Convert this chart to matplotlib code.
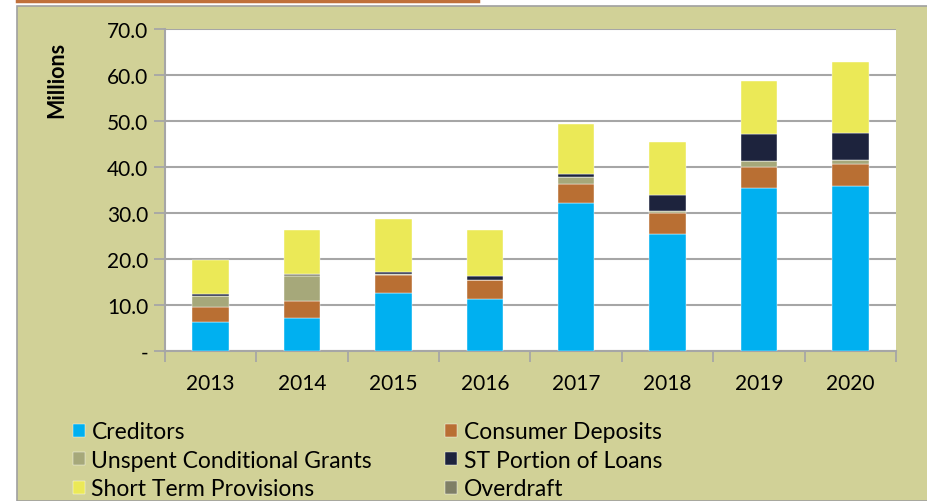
import matplotlib.pyplot as plt
import matplotlib.ticker as mticker
from matplotlib.patches import Rectangle
from matplotlib.lines import Line2D
import numpy as np

plt.rcParams['font.family'] = ['Lato', 'DejaVu Sans']

years = ['2013', '2014', '2015', '2016', '2017', '2018', '2019', '2020']

creditors = [6.2, 7.2, 12.6, 11.3, 32.2, 25.4, 35.4, 35.8]
consumer_deposits = [3.4, 3.7, 3.9, 4.1, 4.2, 4.5, 4.6, 4.9]
unspent_grants = [2.4, 5.5, 0.2, 0.0, 1.4, 0.5, 1.3, 0.8]
st_loans = [0.3, 0.0, 0.5, 0.8, 0.7, 3.5, 5.9, 6.0]
provisions = [7.5, 9.7, 11.5, 10.0, 10.9, 11.5, 11.5, 15.3]
overdraft = [0.0, 0.3, 0.0, 0.0, 0.0, 0.0, 0.0, 0.0]

series = [
    ("Creditors", creditors, "#00B0F0"),
    ("Consumer Deposits", consumer_deposits, "#B96F33"),
    ("Unspent Conditional Grants", unspent_grants, "#A6A87A"),
    ("Overdraft", overdraft, "#7F7F66"),
    ("ST Portion of Loans", st_loans, "#1D233D"),
    ("Short Term Provisions", provisions, "#EBE957"),
]

# legend fills column by column
legend_order = ["Creditors", "Unspent Conditional Grants", "Short Term Provisions",
                "Consumer Deposits", "ST Portion of Loans", "Overdraft"]

olive = "#D1D197"
grid_gray = "#A6A6A6"

fig = plt.figure(figsize=(9.28, 5.02), dpi=100)
fig.patch.set_facecolor("white")

# chart area background + border, orange rule above
bg = Rectangle((17 / 928, 0), 1, 1 - 7 / 502, transform=fig.transFigure,
               facecolor=olive, edgecolor="#A0A0A0", linewidth=1.2, zorder=-10)
fig.patches.append(bg)
fig.lines.append(Line2D([17 / 928, 478 / 928], [1 - 1.5 / 502, 1 - 1.5 / 502],
                        transform=fig.transFigure, color="#C0703A", linewidth=2.5))

ax = fig.add_axes([165 / 928, 150 / 502, 731 / 928, 322 / 502])
ax.set_facecolor("white")

x = np.arange(len(years))
bottom = np.zeros(len(years))
for name, vals, color in series:
    ax.bar(x, vals, 0.4, bottom=bottom, color=color, label=name,
           edgecolor="white", linewidth=0.3, zorder=3)
    bottom += np.array(vals)

ax.set_xlim(-0.5, len(years) - 0.5)
ax.set_ylim(0, 70)
ax.yaxis.set_major_locator(mticker.MultipleLocator(10))
ax.yaxis.set_major_formatter(mticker.FuncFormatter(lambda v, p: "-" if v == 0 else f"{v:.1f}"))
ax.grid(axis="y", color=grid_gray, linewidth=1.5, zorder=0)

ax.set_xticks(x)
ax.set_xticklabels(years)
ax.set_xticks(np.arange(-0.5, len(years)), minor=True)
ax.tick_params(axis="x", which="major", length=0, pad=16, labelsize=15)
ax.tick_params(axis="x", which="minor", length=8, width=1.3, color=grid_gray)
ax.tick_params(axis="y", length=8, width=1.3, color=grid_gray, labelsize=15, pad=4)

for side in ["top", "right"]:
    ax.spines[side].set_visible(False)
for side in ["left", "bottom"]:
    ax.spines[side].set_color(grid_gray)
    ax.spines[side].set_linewidth(1.5)

fig.text(57 / 928, 1 - 80 / 502, "Millions", rotation=90, fontsize=15.5,
         fontweight="bold", ha="center", va="center")

handles, labels = ax.get_legend_handles_labels()
lookup = dict(zip(labels, handles))
leg = fig.legend([lookup[n] for n in legend_order], legend_order, ncol=2,
                 loc="upper left", bbox_to_anchor=(64 / 928, 1 - 413 / 502),
                 frameon=False, fontsize=16.5, handlelength=0.5, handleheight=0.5,
                 handletextpad=0.3, columnspacing=3.2, labelspacing=0.33,
                 borderaxespad=0)

fig.savefig("out.png", dpi=100, facecolor=fig.get_facecolor())
